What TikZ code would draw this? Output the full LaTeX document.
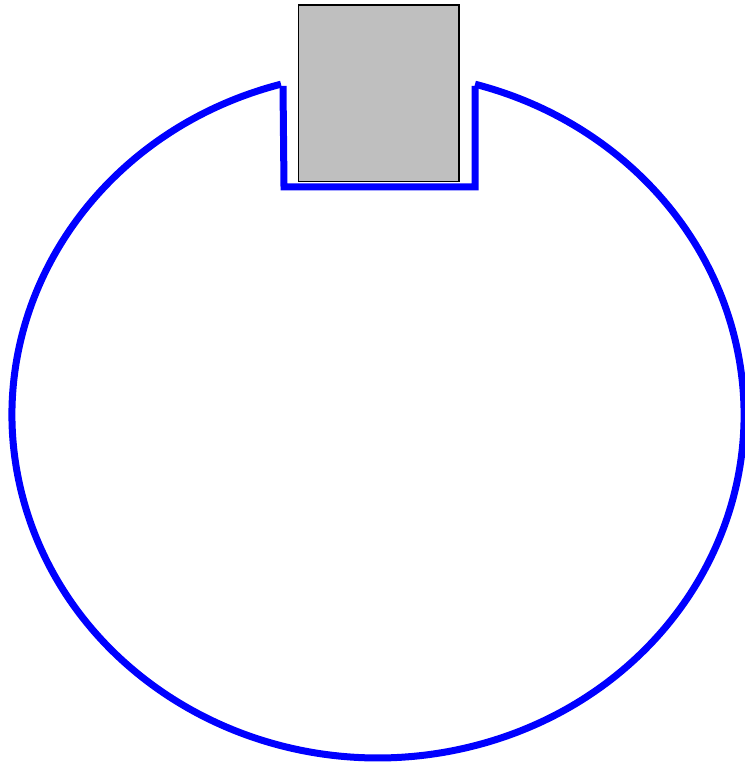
\documentclass[tikz,border=0pt]{standalone}
\usetikzlibrary{positioning}

\begin{document}
\begin{tikzpicture}[
	x=0.02cm, y=0.02cm,
	ring/.style={draw=blue, line width=0.14cm},
	plug/.style={draw, fill=lightgray, line width=0.03cm, rectangle, inner sep=0pt, outer sep=0pt, minimum width=3.21cm, minimum height=3.53cm}
	]
	\useasboundingbox (0,0) rectangle (744,766);
	
	% ======================
	% Ring mit Aussparung
	% ======================
	\draw[ring] (281,681.8) arc[start angle=105.37, end angle=434.63, x radius=366, y radius=343];
	
	% Aussparung (Nut)
	\coordinate (NL) at (283,680);
	\coordinate (NR) at (475,680);
	\draw[ring] (NL) -- (284,579) -- (475,579) -- (NR);
	
	% Einsatz
	\node[plug] (P) at (378.75,672.75) {};
	
\end{tikzpicture}
\end{document}
